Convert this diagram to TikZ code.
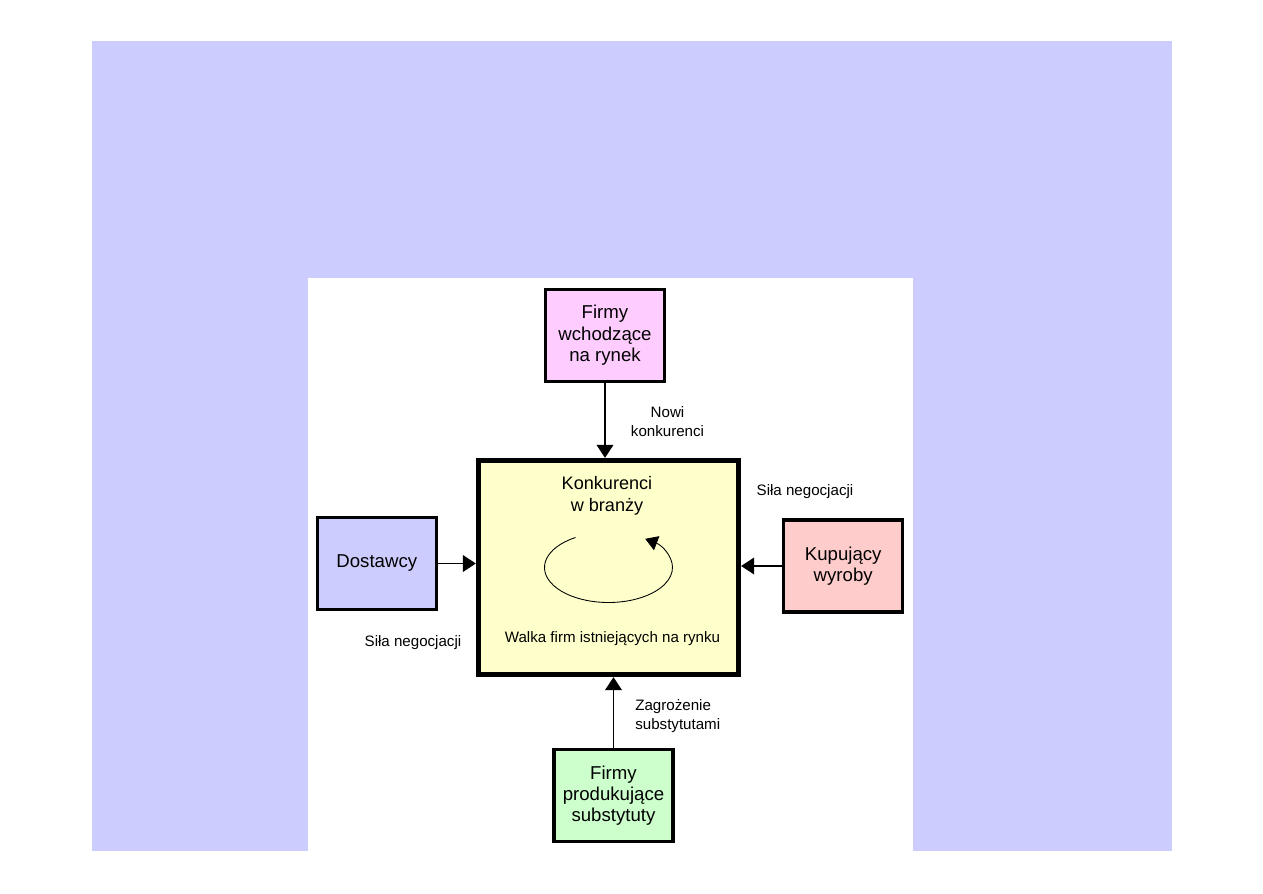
\documentclass[tikz,border=0pt]{standalone}
\usepackage{fontspec}
\setmainfont{Liberation Sans}
\usepackage{tikz}
\usetikzlibrary{arrows.meta,positioning,calc}

\definecolor{lavender}{HTML}{CCCCFF}
\definecolor{pinkfill}{HTML}{FFCCFF}
\definecolor{yellowfill}{HTML}{FFFFCC}
\definecolor{rosefill}{HTML}{FFCCCC}
\definecolor{greenfill}{HTML}{CCFFCC}

\begin{document}
\begin{tikzpicture}[
    force/.style={draw=black, line width=1.8pt, minimum width=2.38cm, minimum height=1.84cm,
                  align=center, font=\fontsize{10.6}{12.2}\selectfont, inner sep=2pt},
    note/.style={font=\fontsize{8.6}{10.4}\selectfont, inner sep=0pt},
    push/.style={-{Triangle[length=7.4pt, width=9.5pt]}, line width=0.8pt}
  ]
  % page and panels
  \useasboundingbox (-12.17,11.35) rectangle (13.09,-6.51);
  \fill[lavender] (-10.33,10.53) rectangle (11.27,-5.67);
  \fill[white] (-6.01,5.79) rectangle (6.09,-5.67);

  % rivalry in the industry
  \node (rivals) [draw=black, line width=3pt, fill=yellowfill, minimum width=5.2cm, minimum height=4.28cm] at (0,0) {};
  \node (rivalstxt) [note, align=center, font=\fontsize{10.3}{12.2}\selectfont] at (-0.03,1.43) {Konkurenci\\w branży};
  \node (fighttxt) [note] at (0.08,-1.42) {Walka firm istniejących na rynku};
  \draw[-{Triangle[length=7pt, width=8.5pt]}, line width=0.5pt]
    ($(rivals.center)+(121:1.28cm and 0.7cm)$) arc[start angle=121, end angle=415, x radius=1.28cm, y radius=0.7cm];

  % the four forces
  \node (entrants) [force, fill=pinkfill, above=1.5cm of rivals, xshift=-0.07cm] {Firmy\\wchodzące\\na rynek};
  \node (suppliers) [force, fill=lavender, left=0.76cm of rivals, yshift=0.08cm] {Dostawcy};
  \node (buyers) [force, fill=rosefill, right=0.82cm of rivals, yshift=0.03cm] {Kupujący\\wyroby};
  \node (substitutes) [force, fill=greenfill, below=1.42cm of rivals, xshift=0.1cm] {Firmy\\produkujące\\substytuty};

  \draw[push] (entrants.south) -- (entrants.south |- rivals.north);
  \draw[push] (suppliers.east) -- (suppliers.east -| rivals.west);
  \draw[push] (buyers.west) -- (buyers.west -| rivals.east);
  \draw[push] (substitutes.north) -- (substitutes.north |- rivals.south);

  % labels
  \node (newlbl) [note, align=center] at (1.18,2.92) {Nowi\\konkurenci};
  \node (buylbl) [note] at (3.93,1.51) {Siła negocjacji};
  \node (suplbl) [note] at (-3.91,-1.51) {Siła negocjacji};
  \node (sublbl) [note, align=left, anchor=west] at (0.53,-2.97) {Zagrożenie\\substytutami};
\end{tikzpicture}
\end{document}
